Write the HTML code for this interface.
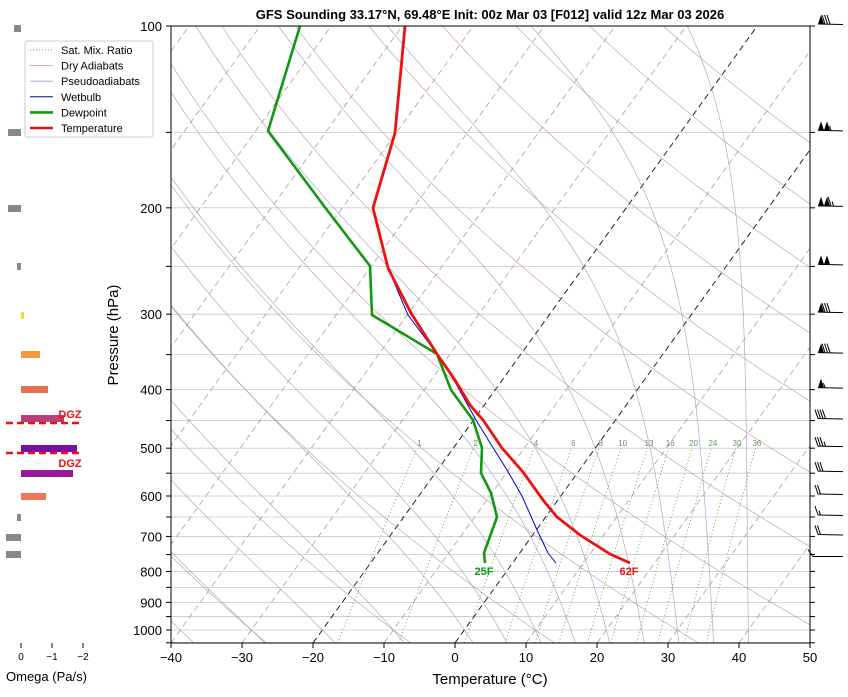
<!DOCTYPE html>
<html><head><meta charset="utf-8"><style>
body{margin:0;background:#fff;}
svg text{font-family:"Liberation Sans","DejaVu Sans",sans-serif;}
</style></head><body>
<svg id="s" width="848" height="692" xmlns="http://www.w3.org/2000/svg">
<defs><clipPath id="c"><rect x="171" y="26" width="639" height="617"/></clipPath></defs>
<g id="bg" clip-path="url(#c)"></g>
<g id="fg"></g>
</svg>
<script>
var NS="http://www.w3.org/2000/svg";
function el(par,tag,at,txt){var e=document.createElementNS(NS,tag);for(var k in at)e.setAttribute(k,at[k]);if(txt!=null)e.textContent=txt;par.appendChild(e);return e;}
var bg=document.getElementById('bg'),fg=document.getElementById('fg');
function Y(p){return 26+604*Math.log10(p/100);}
function X(T,p){return 455+7.1*T+0.72*(643-Y(p));}
function pl(par,pts,st){el(par,'polyline',Object.assign({points:pts.map(function(a){return a[0].toFixed(1)+','+a[1].toFixed(1)}).join(' '),fill:'none'},st));}
var ps=[];for(var p=1050;p>=100;p-=5)ps.push(p);
for(var p=100;p<=1050;p+=50){el(bg,'line',{x1:171,x2:810,y1:Y(p),y2:Y(p),stroke:'#c8c8c8','stroke-width':0.8});}
for(var T=-130;T<=50;T+=10){pl(bg,[[X(T,1050),Y(1050)],[X(T,100),Y(100)]],{stroke:T==0||T==-20?'#222':'#aaa','stroke-width':T==0||T==-20?1:0.9,'stroke-dasharray':'6,4'});}
for(var t0=-50;t0<=200;t0+=20){var pts=[];ps.forEach(function(p){var T=(t0+273.15)*Math.pow(p/1000,0.2857)-273.15;pts.push([X(T,p),Y(p)]);});pl(bg,pts,{stroke:'#c08080','stroke-width':0.6,opacity:0.85});}
function es(T){return 6.112*Math.exp(17.67*T/(T+243.5));}
function gam(T,p){var Tk=T+273.15,e=es(T),r=0.622*e/(p-e),L=2.501e6,Rd=287,cp=1005,eps=0.622;
return (Rd*Tk+L*r)/(cp+L*L*r*eps/(Rd*Tk*Tk))/p;}
[-40,-30,-20,-10,0,5,10,15,20,25,30,35,40].forEach(function(t0){var T=t0,pts=[],p=1000;
 var Td=T,pp=1000;while(pp<1050){Td+=gam(Td,pp)*1;pp+=1;}
 var up=[];while(p>=100){if(p%10==0)up.push([X(T,p),Y(p)]);T-=gam(T,p)*1;p-=1;}
 pl(bg,[[X(Td,1050),Y(1050)]].concat(up),{stroke:'#9a9ac8','stroke-width':0.7,opacity:0.85});});
[1,2,4,6,8,10,13,16,20,24,30,36].forEach(function(w){var pts=[];for(var p=1050;p>=500;p-=10){var e=w*p/(622+w),l=Math.log(e/6.112),Td=243.5*l/(17.67-l);pts.push([X(Td,p),Y(p)]);}
pl(bg,pts,{stroke:'#3a9a3a','stroke-width':0.8,'stroke-dasharray':'1,2.5'});
var p=490,e=w*p/(622+w),l=Math.log(e/6.112),Td=243.5*l/(17.67-l);el(fg,'text',{x:X(Td,p),y:446,'font-size':8,fill:'#5a9a5a','text-anchor':'middle'},w);});
pl(fg,[[405,26],[395,133],[373,208],[388,268],[408,315],[437,354],[455,382],[476,420],[492,446],[507,470],[522,496],[537,530],[548,553],[556,563]],{stroke:'#0000cc','stroke-width':1});
pl(fg,[[300,26],[268,131],[327,210],[370,266],[372,315],[437,354],[451,390],[473,420],[482,448],[481,473],[491,493],[497,517],[484,553],[485,563]],{stroke:'#119911','stroke-width':2.6});
pl(fg,[[405,26],[395,133],[373,208],[388,268],[411,313],[437,354],[455,380],[470,405],[483,420],[502,448],[523,472],[543,500],[557,517],[580,535],[610,554],[630,563]],{stroke:'#ee1111','stroke-width':2.8});
el(fg,'text',{x:484,y:575,'font-size':11,'font-weight':'bold',fill:'#119911','text-anchor':'middle'},'25F');
el(fg,'text',{x:629,y:575,'font-size':11,'font-weight':'bold',fill:'#ee1111','text-anchor':'middle'},'62F');
el(fg,'rect',{x:171,y:26,width:639,height:617,fill:'none',stroke:'#000','stroke-width':1});
for(var T=-40;T<=50;T+=10){var x=455+7.1*T;el(fg,'line',{x1:x,x2:x,y1:643,y2:648,stroke:'#000'});el(fg,'text',{x:x,y:662,'font-size':13,'text-anchor':'middle'},(T<0?'\u2212'+(-T):T));}
for(var p=100;p<=1050;p+=50){var y=Y(p);el(fg,'line',{x1:166,x2:171,y1:y,y2:y,stroke:'#000'});el(fg,'line',{x1:810,x2:815,y1:y,y2:y,stroke:'#000'});if(p%100==0&&p<=1000)el(fg,'text',{x:162,y:y+5,'font-size':13,'text-anchor':'end'},p);}
el(fg,'text',{x:490,y:684,'font-size':15,'text-anchor':'middle'},'Temperature (°C)');
el(fg,'text',{x:0,y:0,'font-size':15,'text-anchor':'middle',transform:'translate(118,335) rotate(-90)'},'Pressure (hPa)');
el(fg,'text',{x:490,y:19,'font-size':13,'font-weight':'bold','text-anchor':'middle'},'GFS Sounding 33.17°N, 69.48°E Init: 00z Mar 03 [F012] valid 12z Mar 03 2026');
el(fg,'rect',{x:25,y:41,width:128,height:96,fill:'#fff',stroke:'#ccc',rx:2});
var lg=[['Sat. Mix. Ratio','#3a9a3a',0.8,'1,2'],['Dry Adiabats','#c89090',0.8,''],['Pseudoadiabats','#9a9ac8',0.8,''],['Wetbulb','#0000cc',1,''],['Dewpoint','#119911',2.6,''],['Temperature','#ee1111',2.6,'']];
lg.forEach(function(a,i){var y=50+i*15.6;el(fg,'line',{x1:30,x2:53,y1:y,y2:y,stroke:a[1],'stroke-width':a[2],'stroke-dasharray':a[3]});el(fg,'text',{x:61,y:y+4,'font-size':11},a[0]);});
var ob=[[28,14,21,'#888'],[132,8,21,'#888'],[208,8,21,'#888'],[266,17,21,'#888'],[315,21,24,'#eedd33'],[354,21,40,'#f39a40'],[389,21,48,'#e8704f'],[418,21,64,'#b8407a'],[448,21,77,'#7a0ea0'],[473,21,73,'#9a179b'],[496,21,46,'#ea7a5a'],[517,17,21,'#888'],[537,6,21,'#888'],[554,6,21,'#888']];
ob.forEach(function(b){el(fg,'rect',{x:b[1],y:b[0]-3,width:b[2]-b[1],height:7,fill:b[3]});});
[423,453].forEach(function(y){el(fg,'line',{x1:6,x2:82,y1:y,y2:y,stroke:'#ee1111','stroke-width':2.5,'stroke-dasharray':'7,4'});});
el(fg,'text',{x:70,y:418,'font-size':11,'font-weight':'bold',fill:'#ee1111','text-anchor':'middle'},'DGZ');
el(fg,'text',{x:70,y:467,'font-size':11,'font-weight':'bold',fill:'#ee1111','text-anchor':'middle'},'DGZ');
[[21,'0'],[52,'\u22121'],[83,'\u22122']].forEach(function(a){el(fg,'line',{x1:a[0],x2:a[0],y1:643,y2:648,stroke:'#000'});el(fg,'text',{x:a[0],y:660,'font-size':10,'text-anchor':'middle'},a[1]);});
el(fg,'text',{x:6,y:681,'font-size':13},'Omega (Pa/s)');
var wb=[[100,1,3,0],[150,2,0,1],[200,2,1,1],[250,2,0,0],[300,1,3,0],[350,1,3,0],[400,1,0,1],[450,0,4,0],[500,0,3,1],[550,0,3,0],[600,0,2,0],[650,0,1,1],[700,0,2,0],[750,0,0,0]];
wb.forEach(function(w){var y=Y(w[0])-2,x=818;
 if(w[1]+w[2]+w[3]==0){pl(fg,[[808,y-3],[813,y+4],[843,y+4]],{stroke:'#000','stroke-width':1});return;}
 el(fg,'line',{x1:x,x2:843,y1:y,y2:y+0.5,stroke:'#000','stroke-width':1});
 for(var i=0;i<w[1];i++){el(fg,'polygon',{points:x+','+y+' '+(x+3)+','+(y-9)+' '+(x+6)+','+y,fill:'#000'});x+=6;}
 if(w[1])x+=1;
 for(var i=0;i<w[2];i++){el(fg,'line',{x1:x,y1:y,x2:x-3,y2:y-9,stroke:'#000','stroke-width':1});x+=2.5;}
 for(var i=0;i<w[3];i++){el(fg,'line',{x1:x,y1:y,x2:x-1.5,y2:y-4.5,stroke:'#000','stroke-width':1});x+=2.5;}
});
</script>
</body></html>
